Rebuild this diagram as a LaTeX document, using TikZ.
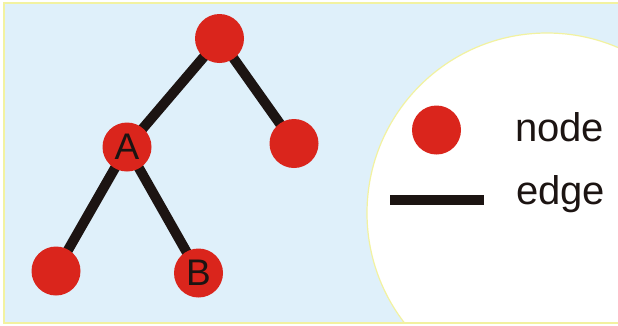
\documentclass[tikz,border=0pt]{standalone}
\usepackage{fontspec}
\setmainfont{Liberation Sans}
\definecolor{bgblue}{HTML}{DFF0FA}
\definecolor{nodered}{HTML}{DA251C}
\definecolor{edgeblack}{HTML}{1C1412}
\definecolor{bordery}{HTML}{F2F2A0}
\pgfdeclarelayer{background}
\pgfsetlayers{background,main}
\begin{document}
\begin{tikzpicture}[x=1pt,y=-1pt,
  treenode/.style={circle,fill=nodered,minimum size=49pt,inner sep=0pt,
    font=\fontsize{37}{40}\selectfont,text=edgeblack},
  treeedge/.style={draw=edgeblack,line width=10pt},
  legtext/.style={anchor=base west,inner sep=0pt,font=\fontsize{40}{48}\selectfont,text=edgeblack}]
\useasboundingbox (0,0) rectangle (618,325);
\begin{pgfonlayer}{background}
\fill[white] (0,0) rectangle (618,325);
\fill[bgblue] (4,3) rectangle (618,323);
\begin{scope}
\clip (4,3) rectangle (618,323);
\draw[bordery,line width=1.2pt,fill=white] (547,213) circle (180);
\end{scope}
\draw[bordery,line width=1.5pt] (618,3) -- (4,3) -- (4,323) -- (618,323);
\end{pgfonlayer}

\node[treenode] (root) at (219.5,38.5) {};
\node[treenode] (A) at (127,147) {A};
\node[treenode] (R) at (294,143.5) {};
\node[treenode] (L) at (56,271) {};
\node[treenode] (B) at (198.5,273) {B};

\begin{pgfonlayer}{background}
\draw[treeedge] (root.center) -- (A.center);
\draw[treeedge] (root.center) -- (R.center);
\draw[treeedge] (A.center) -- (L.center);
\draw[treeedge] (A.center) -- (B.center);
\end{pgfonlayer}

\node[treenode] (ldot) at (436.5,130) {};
\coordinate (ls) at (390,199.5);
\coordinate (le) at (484,199.5);
\draw[treeedge] (ls) -- (le);
\node[legtext] (lnode) at (515,141.5) {node};
\node[legtext] (ledge) at (516,204) {edge};
\end{tikzpicture}
\end{document}
